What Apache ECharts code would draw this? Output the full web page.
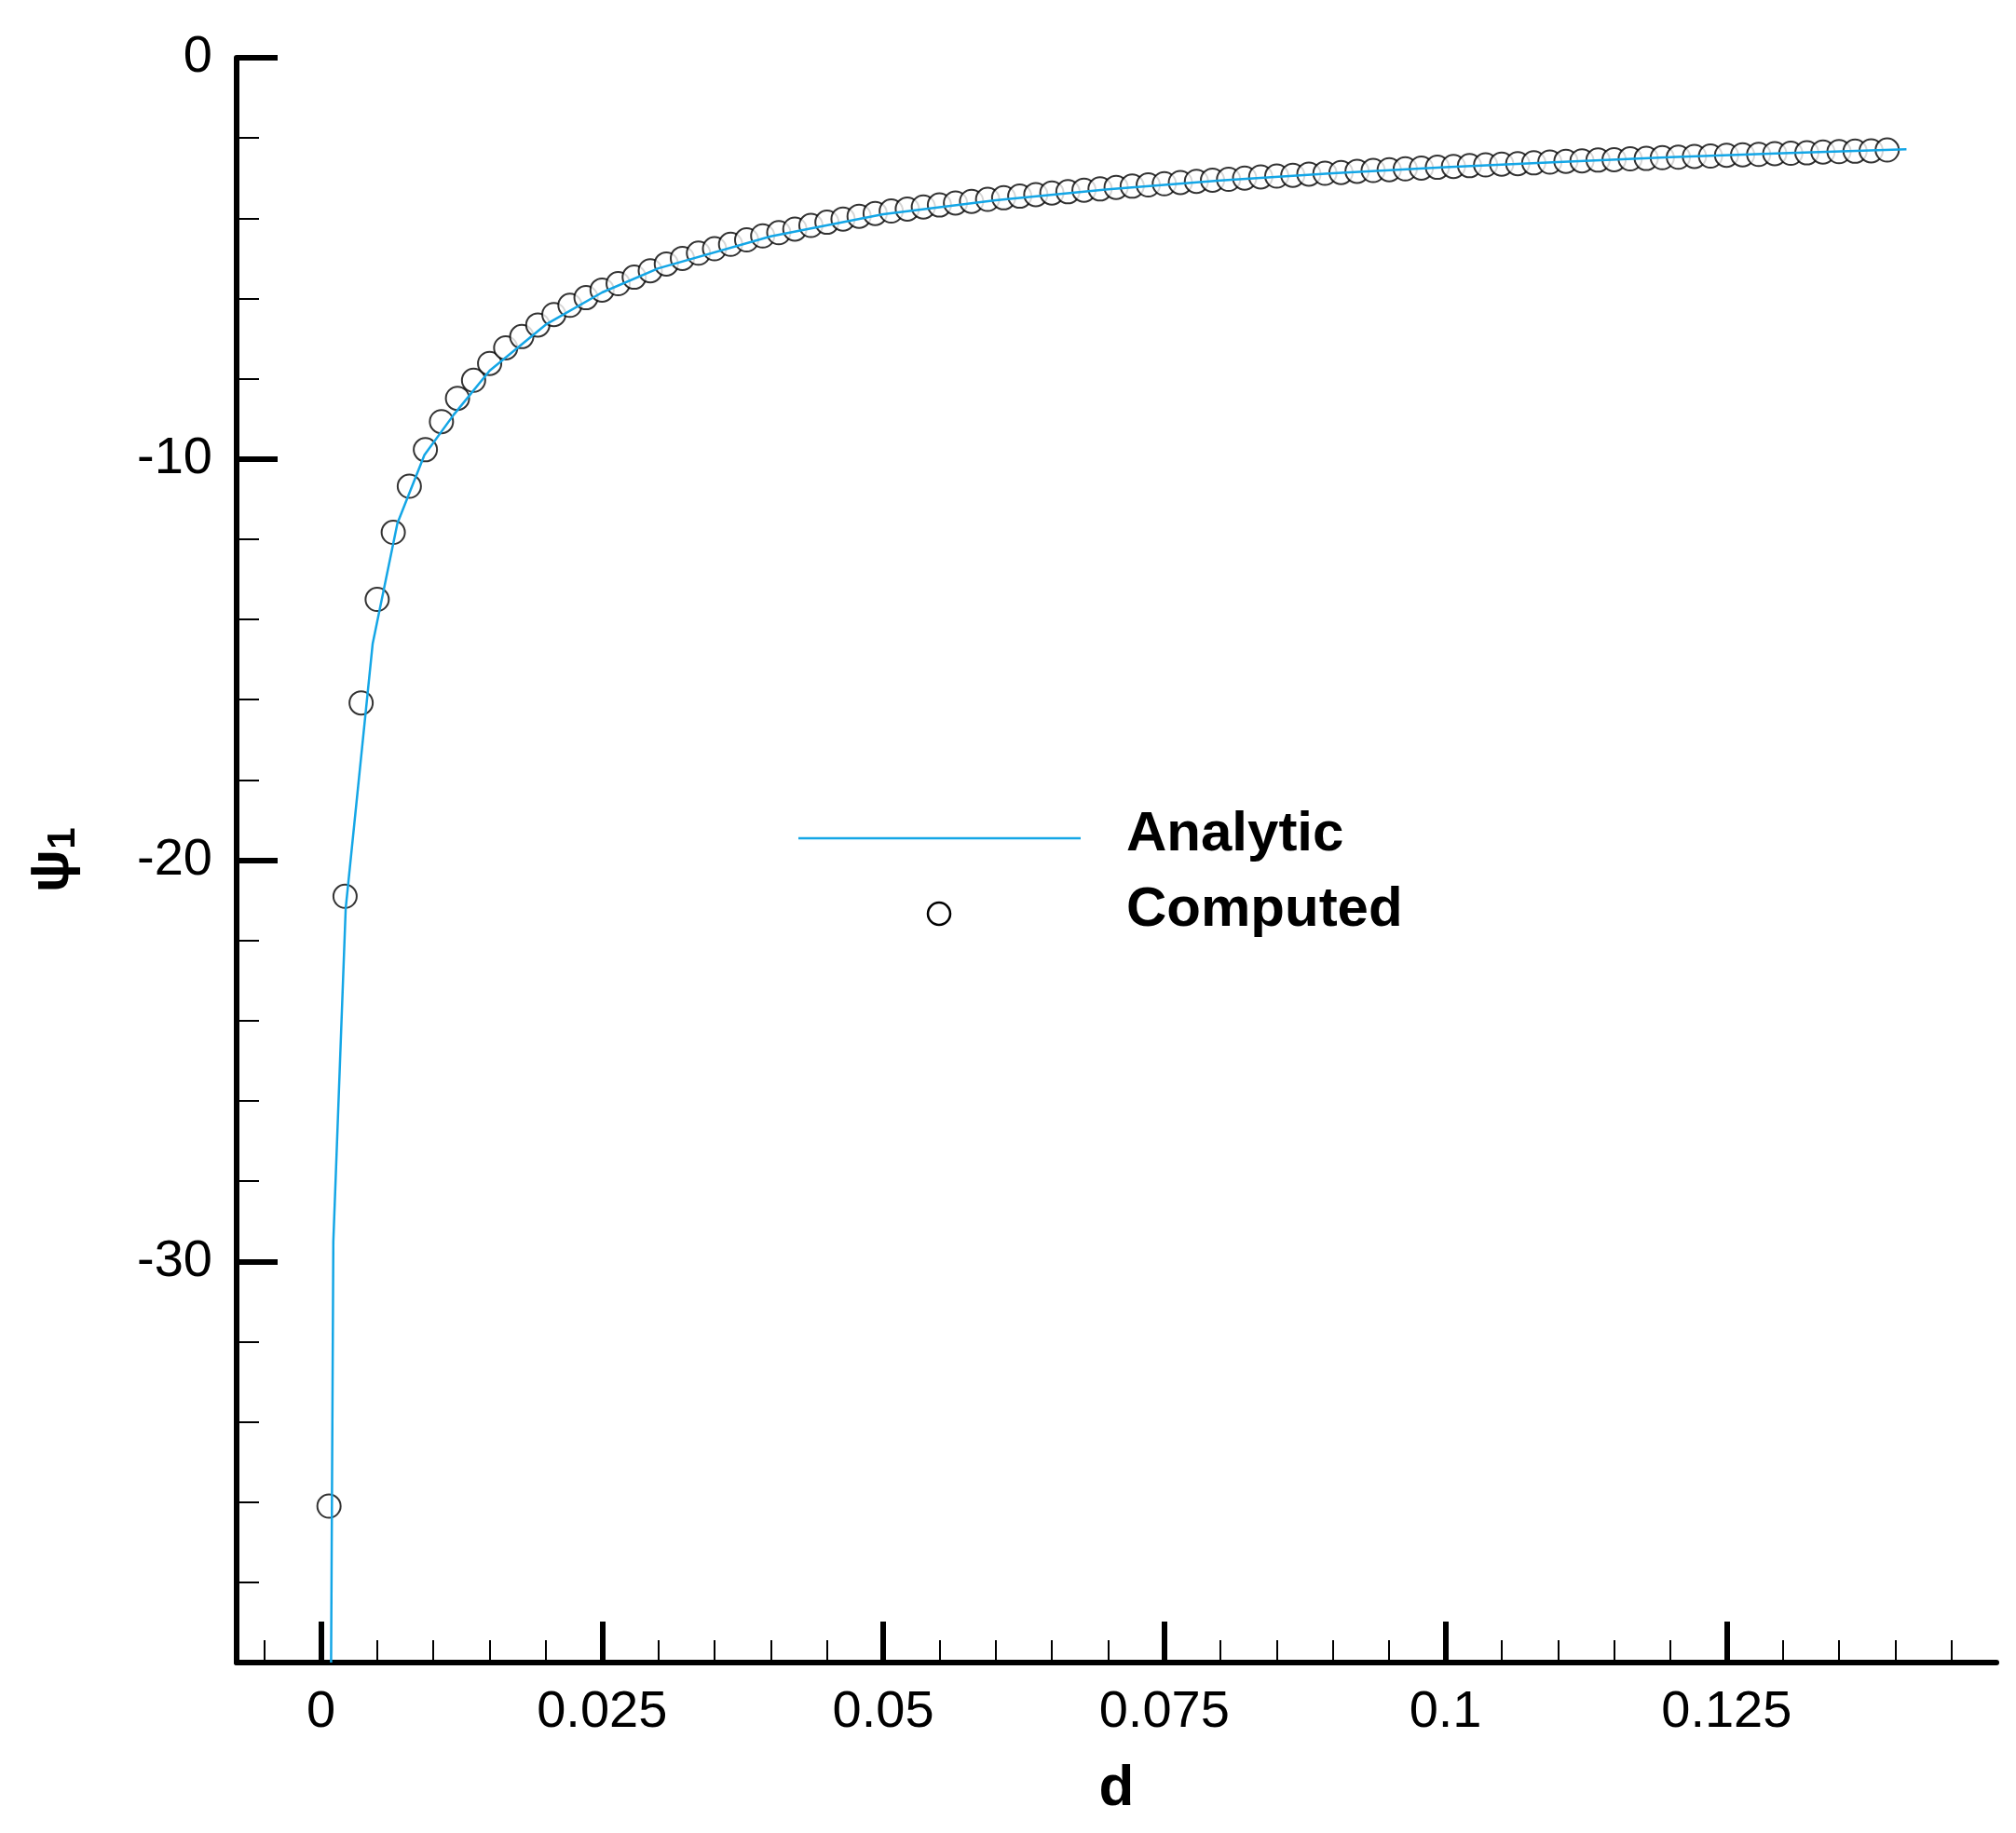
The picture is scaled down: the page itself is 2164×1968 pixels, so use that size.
<!DOCTYPE html>
<html><head><meta charset="utf-8">
<script src="https://cdn.jsdelivr.net/npm/echarts@6/dist/echarts.min.js"></script>
<style>html,body{margin:0;background:#fff}#c{width:2164px;height:1968px}</style>
</head><body><div id="c"></div>
<script>
// computed points (d, psi1)
const computedD = [];
for (let i = 0; i < 98; i++) computedD.push((i + 0.5) * 0.14 / 98);
const computedPsi = [-36.1, -20.9, -16.08, -13.5, -11.83, -10.68, -9.77, -9.07, -8.49, -8.04,
  -7.62, -7.23, -6.95, -6.66, -6.40, -6.17, -5.98, -5.79, -5.63, -5.47,
  -5.31, -5.14, -5.00, -4.87, -4.76, -4.65, -4.54, -4.44, -4.36, -4.27,
  -4.18, -4.10, -4.02, -3.95, -3.88, -3.82, -3.77, -3.72, -3.67, -3.62,
  -3.58, -3.53, -3.49, -3.45, -3.41, -3.37, -3.34, -3.30, -3.27, -3.23,
  -3.20, -3.17, -3.14, -3.11, -3.08, -3.05, -3.03, -3.00, -2.97, -2.95,
  -2.93, -2.90, -2.88, -2.86, -2.83, -2.81, -2.79, -2.77, -2.75, -2.73,
  -2.71, -2.69, -2.67, -2.65, -2.64, -2.62, -2.60, -2.58, -2.57, -2.55,
  -2.54, -2.52, -2.51, -2.49, -2.48, -2.46, -2.45, -2.43, -2.42, -2.41,
  -2.39, -2.38, -2.37, -2.35, -2.34, -2.33, -2.32, -2.30];
// analytic curve
const analyticD = [0.0009, 0.0011, 0.0022, 0.0046, 0.0068, 0.0092, 0.0118, 0.015, 0.02, 0.025, 0.03,
  0.04, 0.05, 0.06, 0.07, 0.08, 0.09, 0.1, 0.11, 0.12, 0.13, 0.141];
const analyticPsi = [-40, -29.5, -21.2, -14.6, -11.6, -9.9, -8.9, -7.8, -6.65, -5.85, -5.25,
  -4.45, -3.9, -3.55, -3.28, -3.06, -2.88, -2.73, -2.60, -2.48, -2.38, -2.28];
const xMajor = [0, 0.025, 0.05, 0.075, 0.1, 0.125];
const xMinor = [];
for (let i = -1; i <= 29; i++) if (i % 5 !== 0) xMinor.push(+(i * 0.005).toFixed(4));

const font = 'Liberation Sans, Arial, sans-serif';
const chart = echarts.init(document.getElementById('c'));
const axLine = { onZero: false, lineStyle: { color: '#000', width: 6 } };
chart.setOption({
  animation: false,
  grid: { left: 254, top: 62, right: 21, bottom: 183 },
  xAxis: [{
    type: 'value', min: -0.0075, max: 0.149,
    axisLine: axLine,
    axisTick: { inside: true, length: 44, lineStyle: { color: '#000', width: 6 }, customValues: xMajor },
    axisLabel: { customValues: xMajor, fontFamily: font, fontSize: 56, color: '#000', margin: 26,
      formatter: v => String(+v.toFixed(3)) },
    splitLine: { show: false },
    name: 'd', nameLocation: 'middle', nameGap: 105,
    nameTextStyle: { fontFamily: font, fontSize: 62, fontWeight: 'bold', color: '#000' }
  }, {
    type: 'value', min: -0.0075, max: 0.149, position: 'bottom',
    axisLine: { show: false, onZero: false },
    axisTick: { inside: true, length: 24, lineStyle: { color: '#000', width: 2 }, customValues: xMinor },
    axisLabel: { show: false }, splitLine: { show: false }
  }],
  yAxis: {
    type: 'value', min: -40, max: 0, interval: 10,
    axisLine: axLine,
    axisTick: { inside: true, length: 44, lineStyle: { color: '#000', width: 6 } },
    minorTick: { show: true, splitNumber: 5, length: 24, lineStyle: { color: '#000', width: 2 } },
    axisLabel: { fontFamily: font, fontSize: 56, color: '#000', margin: 26,
      formatter: v => v === -40 ? '' : String(v) },
    splitLine: { show: false },
    name: '{a|ψ}{b|1}', nameLocation: 'middle', nameRotate: 90, nameGap: 165,
    nameTextStyle: { rich: {
      a: { fontFamily: font, fontSize: 62, fontWeight: 'bold', color: '#000' },
      b: { fontFamily: font, fontSize: 42, fontWeight: 'bold', color: '#000', verticalAlign: 'bottom', padding: [24, 0, 0, 0] } } }
  },
  series: [{
    type: 'line', xAxisIndex: 0, symbol: 'none',
    lineStyle: { color: '#14a6e6', width: 2.5 },
    data: analyticD.map((d, i) => [d, analyticPsi[i]])
  }, {
    type: 'scatter', xAxisIndex: 0, symbol: 'emptyCircle', symbolSize: 25,
    itemStyle: { color: '#000', borderWidth: 2.5 },
    data: computedD.map((d, i) => [d, computedPsi[i]])
  }],
  graphic: [
    { type: 'line', shape: { x1: 857, y1: 900, x2: 1160, y2: 900 }, style: { stroke: '#14a6e6', lineWidth: 2.5 } },
    { type: 'circle', shape: { cx: 1008, cy: 981, r: 12 }, style: { fill: '#fff', stroke: '#000', lineWidth: 2.5 } },
    { type: 'text', left: 1209, top: 866, style: { text: 'Analytic', font: 'bold 60px ' + font, fill: '#000' } },
    { type: 'text', left: 1209, top: 947, style: { text: 'Computed', font: 'bold 60px ' + font, fill: '#000' } }
  ]
});
</script></body></html>
